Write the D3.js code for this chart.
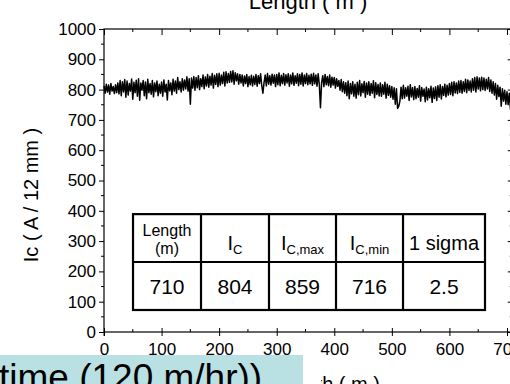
<!DOCTYPE html>
<html><head><meta charset="utf-8">
<script src="https://cdn.jsdelivr.net/npm/d3@7"></script>
<style>
body{margin:0;background:#fff;overflow:hidden;}
svg{display:block;font-family:"Liberation Sans",Arial,sans-serif;}
</style>
</head><body><svg id="c" width="510" height="384"></svg>
<script>
// ---------- data ----------
const xTicks = [0,100,200,300,400,500,600,700];
const yTicks = [0,100,200,300,400,500,600,700,800,900,1000];
const sampleStepM = 2; // one reading every 2 m along the tape
const icValues = [
 812,788,818,792,815,785,820,795,810,787,
 816,790,822,786,830,780,826,792,833,775,
 828,782,820,795,835,768,824,790,831,778,
 836,765,822,798,830,780,825,770,834,790,
 820,785,830,776,822,793,828,780,818,788,
 825,778,832,792,818,766,830,796,822,783,
 834,795,828,788,840,800,826,792,836,798,
 832,802,842,795,836,752,838,805,843,798,
 840,806,846,800,836,810,848,803,842,812,
 850,808,844,815,853,805,847,817,852,810,
 854,815,848,820,857,812,859,822,853,824,
 860,825,862,818,856,829,852,818,850,822,
 848,812,845,820,850,810,843,816,847,812,
 844,817,850,811,846,820,852,814,788,823,
 848,812,853,818,846,815,851,821,848,810,
 850,816,855,813,847,820,853,815,849,822,
 852,811,848,819,855,814,846,821,852,813,
 850,818,855,812,848,820,853,816,847,819,
 851,814,854,819,848,811,852,817,740,823,
 846,810,850,816,843,813,848,808,841,815,
 840,805,836,811,830,798,833,793,826,788,
 823,780,828,770,820,786,826,778,818,772,
 824,783,830,779,819,790,827,775,822,785,
 826,781,820,788,829,773,823,784,817,779,
 822,778,816,785,824,772,818,781,813,775,
 810,768,806,752,803,738,745,762,808,770,
 814,772,806,778,811,764,816,776,807,767,
 810,770,804,775,813,762,807,778,802,760,
 808,766,803,773,811,758,805,771,809,764,
 813,775,816,769,810,781,818,776,814,782,
 820,784,824,780,826,789,822,787,828,791,
 830,788,826,794,834,790,832,797,828,792,
 836,798,840,792,842,802,838,796,841,800,
 838,797,834,802,840,794,832,788,826,782,
 820,768,814,777,808,745,803,762,798,752,
 793,750,788,735,780,728
];
const tableHeaders = [
  {lines:["Length","(m)"]},
  {main:"I", sub:"C"},
  {main:"I", sub:"C,max"},
  {main:"I", sub:"C,min"},
  {text:"1 sigma"}
];
const tableValues = ["710","804","859","716","2.5"];
const xLabel = "Length ( m )";
const yLabel = "Ic ( A / 12 mm )";
const overlayText = "time (120 m/hr))";

// ---------- layout ----------
const svg = d3.select("#c");
const X0 = 104, PX_PER_M = 0.5757;
const x = d3.scaleLinear().domain([0,710]).range([X0, X0 + 710*PX_PER_M]);
const y = d3.scaleLinear().domain([0,1000]).range([332, 29]);
const xR = x.range(), yR = y.range();

// table geometry (inset placed in data units)
const tableColEdgesM = [50.4,168.5,286.6,403,519.4,661.8];
const tableRowEdgesA = [389,231,72.6];

// ---------- data line ----------
const line = d3.line().x((d,i)=>x(i*sampleStepM)).y(d=>y(d));
svg.append("path").datum(icValues)
  .attr("d", line).attr("fill","none").attr("stroke","#000")
  .attr("stroke-width",1.5).attr("stroke-linejoin","round");

// ---------- axes ----------
const minorX = d3.range(50,710,100);
const minorY = d3.range(50,1000,100);
const fontTick = 17;
const FF = "Liberation Sans, Arial, sans-serif";

// left axis: ticks outward
const gL = svg.append("g").attr("transform",`translate(${X0},0)`);
gL.call(d3.axisLeft(y).tickValues(yTicks).tickSize(5).tickPadding(3).tickFormat(d3.format("d")))
  .call(g=>g.select(".domain").remove());
gL.selectAll("text").attr("font-size",fontTick).attr("font-family",FF).attr("fill","#000");
gL.selectAll("line").attr("stroke","#000");
gL.selectAll(".minor").data(minorY).enter().append("line").attr("class","minor")
  .attr("x1",-3).attr("x2",0).attr("y1",d=>y(d)).attr("y2",d=>y(d)).attr("stroke","#000");

// bottom axis: major ticks crossing, minor inward
const gB = svg.append("g").attr("transform",`translate(0,${yR[0]})`);
gB.call(d3.axisBottom(x).tickValues(xTicks).tickSize(4).tickPadding(7).tickFormat(d3.format("d")))
  .call(g=>g.select(".domain").remove());
gB.selectAll(".tick line").attr("y1",-4).attr("stroke","#000");
gB.selectAll("text").attr("font-size",fontTick).attr("font-family",FF).attr("fill","#000");
gB.selectAll(".minor").data(minorX).enter().append("line").attr("class","minor")
  .attr("x1",d=>x(d)).attr("x2",d=>x(d)).attr("y1",-3).attr("y2",0).attr("stroke","#000");

// top axis: ticks inward, no labels
const gT = svg.append("g").attr("transform",`translate(0,${yR[1]})`);
gT.call(d3.axisTop(x).tickValues(xTicks).tickSize(-6).tickFormat(""))
  .call(g=>g.select(".domain").remove());
gT.selectAll("line").attr("stroke","#000");
gT.selectAll(".minor").data(minorX).enter().append("line").attr("class","minor")
  .attr("x1",d=>x(d)).attr("x2",d=>x(d)).attr("y1",0).attr("y2",3).attr("stroke","#000");

// right axis: ticks inward
const gRt = svg.append("g").attr("transform",`translate(${xR[1]},0)`);
gRt.call(d3.axisRight(y).tickValues(yTicks).tickSize(-5).tickFormat(""))
  .call(g=>g.select(".domain").remove());
gRt.selectAll("line").attr("stroke","#000");
gRt.selectAll(".minor").data(minorY).enter().append("line").attr("class","minor")
  .attr("x1",-3).attr("x2",0).attr("y1",d=>y(d)).attr("y2",d=>y(d)).attr("stroke","#000");

// frame
svg.append("rect").attr("x",xR[0]).attr("y",yR[1]).attr("width",xR[1]-xR[0]).attr("height",yR[0]-yR[1])
  .attr("fill","none").attr("stroke","#000").attr("stroke-width",1.2);
svg.append("line").attr("x1",X0).attr("x2",X0).attr("y1",yR[0]).attr("y2",yR[0]+4).attr("stroke","#000");

// ---------- table ----------
const tx = tableColEdgesM.map(x), ty = tableRowEdgesA.map(y);
const gTab = svg.append("g");
gTab.append("rect").attr("x",tx[0]).attr("y",ty[0]).attr("width",tx[tx.length-1]-tx[0]).attr("height",ty[2]-ty[0])
  .attr("fill","#fff").attr("stroke","#000").attr("stroke-width",2.2);
tx.slice(1,-1).forEach(v=>gTab.append("line").attr("x1",v).attr("x2",v).attr("y1",ty[0]).attr("y2",ty[2]).attr("stroke","#000").attr("stroke-width",2.2));
gTab.append("line").attr("x1",tx[0]).attr("x2",tx[tx.length-1]).attr("y1",ty[1]).attr("y2",ty[1]).attr("stroke","#000").attr("stroke-width",2.2);

tableHeaders.forEach((h,i)=>{
  const cx = (tx[i]+tx[i+1])/2;
  if(h.lines){
    gTab.append("text").attr("x",cx).attr("y",ty[0]+22).attr("text-anchor","middle").attr("font-size",16).text(h.lines[0]);
    gTab.append("text").attr("x",cx).attr("y",ty[0]+40).attr("text-anchor","middle").attr("font-size",16).text(h.lines[1]);
  } else if(h.main){
    const t = gTab.append("text").attr("x",cx).attr("y",ty[0]+36).attr("text-anchor","middle").attr("font-size",20);
    t.append("tspan").text(h.main);
    t.append("tspan").attr("font-size",13).attr("dy",4).text(h.sub);
  } else {
    gTab.append("text").attr("x",cx).attr("y",ty[0]+36).attr("text-anchor","middle").attr("font-size",20).text(h.text);
  }
});
tableValues.forEach((v,i)=>{
  const cx = (tx[i]+tx[i+1])/2;
  gTab.append("text").attr("x",cx).attr("y",(ty[1]+ty[2])/2+8).attr("text-anchor","middle").attr("font-size",21).text(v);
});

// ---------- axis titles ----------
svg.append("text").attr("x",308).attr("y",9).attr("text-anchor","middle").attr("font-size",22).text(xLabel);
svg.append("text").attr("x",326).attr("y",391).attr("text-anchor","middle").attr("font-size",20).text(xLabel);
svg.append("text").attr("transform","translate(38,195) rotate(-90)").attr("text-anchor","middle").attr("font-size",20).text(yLabel);

// ---------- overlay boxes from the slide ----------
svg.append("rect").attr("x",303).attr("y",362).attr("width",18).attr("height",30).attr("fill","#fff");
svg.append("rect").attr("x",0).attr("y",355).attr("width",303).attr("height",40).attr("fill","#b9e0e3");
svg.append("text").attr("x",-1).attr("y",390).attr("font-size",37).attr("fill","#000").text(overlayText);
</script>
</body></html>
